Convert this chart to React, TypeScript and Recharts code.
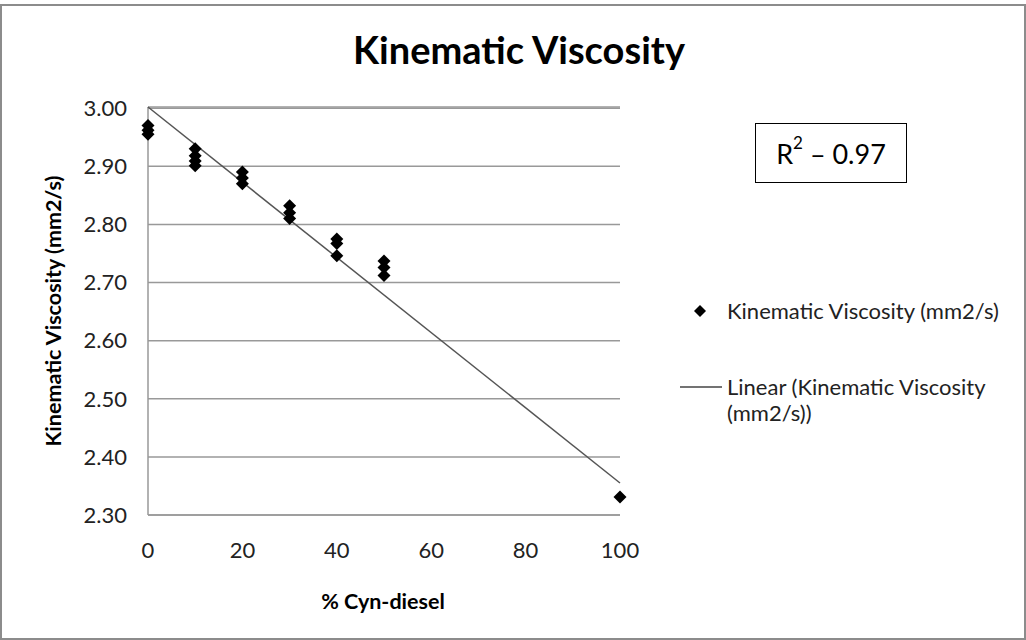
import React from 'react';
import {
  ScatterChart,
  Scatter,
  XAxis,
  YAxis,
  CartesianGrid,
  Legend
} from 'recharts';

// measured points (% blend vs viscosity)
const blendPct = [0, 0, 0, 10, 10, 10, 10, 20, 20, 20, 30, 30, 30, 40, 40, 40, 50, 50, 50, 100];
const viscosity = [
  2.97, 2.962, 2.955,
  2.93, 2.918, 2.909, 2.901,
  2.89, 2.88, 2.87,
  2.832, 2.82, 2.81,
  2.775, 2.767, 2.746,
  2.737, 2.726, 2.712,
  2.331
];

// linear trend end points
const trendX = [0, 100];
const trendY = [3.002, 2.355];

const xTicks = [0, 20, 40, 60, 80, 100];
const yTicks = [2.3, 2.4, 2.5, 2.6, 2.7, 2.8, 2.9, 3.0];

const FONT = 'Lato, "Open Sans", sans-serif';

const points = blendPct.map((x, i) => ({ x, y: viscosity[i] }));
const trend = trendX.map((x, i) => ({ x, y: trendY[i] }));

const Diamond = (props: any) => {
  const { cx, cy } = props;
  if (cx == null || cy == null) return null;
  const r = 6.5;
  return (
    <polygon
      points={`${cx},${cy - r} ${cx + r},${cy} ${cx},${cy + r} ${cx - r},${cy}`}
      fill="#000"
    />
  );
};

const NoDot = () => <g />;

const renderLegend = () => (
  <div style={{ fontFamily: FONT, fontSize: 22, color: '#222', lineHeight: '26px' }}>
    <div style={{ display: 'flex', alignItems: 'center', height: 26 }}>
      <svg width={47} height={26}>
        <polygon points="20,7 26,13 20,19 14,13" fill="#000" />
      </svg>
      <span>Kinematic Viscosity (mm2/s)</span>
    </div>
    <div style={{ display: 'flex', alignItems: 'flex-start', marginTop: 50 }}>
      <svg width={47} height={26} style={{ flex: 'none' }}>
        <line x1={0} y1={13} x2={42} y2={13} stroke="#444" strokeWidth={1.5} />
      </svg>
      <span>
        Linear (Kinematic Viscosity
        <br />
        (mm2/s))
      </span>
    </div>
  </div>
);

export default function App() {
  return (
    <div
      style={{
        position: 'absolute',
        left: 0,
        top: 0,
        width: 1026,
        height: 640,
        background: '#fff',
        fontFamily: FONT
      }}
    >
      {/* outer frame */}
      <div
        style={{
          position: 'absolute',
          left: 0,
          top: 4,
          width: 1022,
          height: 632,
          border: '2px solid #8c8c8c'
        }}
      />

      <div
        style={{
          position: 'absolute',
          left: 0,
          width: 1026,
          top: 26,
          textAlign: 'center',
          fontWeight: 'bold',
          fontSize: 38,
          color: '#000',
          paddingLeft: 6
        }}
      >
        Kinematic Viscosity
      </div>

      <ScatterChart
        width={1026}
        height={640}
        margin={{ top: 107, right: 406, bottom: 85, left: 88 }}
        style={{ position: 'absolute', left: 0, top: 0 }}
      >
        <CartesianGrid horizontal vertical={false} stroke="#999" strokeWidth={1.5} />
        <XAxis
          type="number"
          dataKey="x"
          domain={[0, 100]}
          ticks={xTicks}
          height={40}
          tickLine={false}
          tickSize={0}
          tickMargin={27}
          axisLine={{ stroke: '#999', strokeWidth: 1.5 }}
          tick={{ fontFamily: FONT, fontSize: 22, fill: '#222' }}
        />
        <YAxis
          type="number"
          dataKey="y"
          domain={[2.3, 3.0]}
          ticks={yTicks}
          width={60}
          tickLine={false}
          tickSize={0}
          tickMargin={21}
          axisLine={{ stroke: '#999', strokeWidth: 1.5 }}
          tickFormatter={(v: number) => v.toFixed(2)}
          tick={{ fontFamily: FONT, fontSize: 22, fill: '#222' }}
        />
        <Legend
          layout="vertical"
          align="center"
          verticalAlign="middle"
          content={renderLegend}
          wrapperStyle={{ left: 680, top: 298, width: 345 }}
        />
        <Scatter
          name="Linear (Kinematic Viscosity (mm2/s))"
          data={trend}
          line={{ stroke: '#555', strokeWidth: 1.5 }}
          lineType="joint"
          shape={NoDot}
          isAnimationActive={false}
        />
        <Scatter
          name="Kinematic Viscosity (mm2/s)"
          data={points}
          shape={Diamond}
          isAnimationActive={false}
        />
      </ScatterChart>

      {/* R² annotation */}
      <div
        style={{
          position: 'absolute',
          left: 755,
          top: 123,
          width: 150,
          height: 58,
          border: '1.5px solid #000',
          display: 'flex',
          alignItems: 'center',
          justifyContent: 'center',
          fontSize: 27,
          color: '#000'
        }}
      >
        <span>
          R<sup style={{ fontSize: 17, verticalAlign: 'top', position: 'relative', top: -5 }}>2</sup> – 0.97
        </span>
      </div>

      {/* axis titles */}
      <div
        style={{
          position: 'absolute',
          left: 53,
          top: 311,
          transform: 'translate(-50%, -50%) rotate(-90deg)',
          whiteSpace: 'nowrap',
          fontWeight: 'bold',
          fontSize: 21.5,
          color: '#000'
        }}
      >
        Kinematic Viscosity (mm2/s)
      </div>
      <div
        style={{
          position: 'absolute',
          left: 383,
          top: 601,
          transform: 'translate(-50%, -50%)',
          whiteSpace: 'nowrap',
          fontWeight: 'bold',
          fontSize: 21.5,
          color: '#000'
        }}
      >
        % Cyn-diesel
      </div>
    </div>
  );
}
